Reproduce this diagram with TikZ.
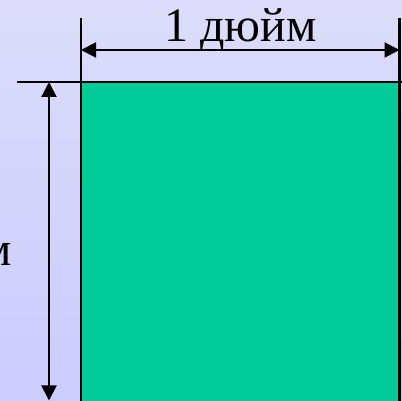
\documentclass[tikz,border=0pt]{standalone}
\usepackage{fontspec}
\setmainfont{Liberation Serif}
\usetikzlibrary{arrows.meta}
\definecolor{bgtop}{HTML}{DCDCFA}
\definecolor{bgbot}{HTML}{CCCCFF}
\definecolor{sheet}{HTML}{00CC99}
\begin{document}
\begin{tikzpicture}[x=1pt,y=1pt,
  dimline/.style={line width=2pt, {Triangle[length=15pt,width=15pt]}-{Triangle[length=15pt,width=15pt]}},
  extline/.style={line width=2.5pt},
  lbl/.style={font=\fontsize{48}{48}\selectfont, inner sep=0pt}]
\useasboundingbox (0,0) rectangle (402,401);
\clip (0,0) rectangle (402,401);
\shade[top color=bgtop, bottom color=bgbot] (0,0) rectangle (402,401);
\fill[sheet] (81,-5) rectangle (399.5,319);
\coordinate (eLtop) at (81,383);
\coordinate (eLbot) at (81,-5);
\coordinate (eRtop) at (399.5,383);
\coordinate (eRbot) at (399.5,-5);
\coordinate (eHl) at (17,319);
\coordinate (eHr) at (405,319);
\draw[extline] (eLtop) -- (eLbot);
\draw[extline] (eRtop) -- (eRbot);
\draw[extline] (eHl) -- (eHr);
\coordinate (hl) at (81,351);
\coordinate (hr) at (399.5,351);
\draw[dimline] (hl) -- (hr);
\node[lbl, anchor=base] (top) at (240.5,359) {1 дюйм};
\coordinate (vt) at (49,319);
\coordinate (vb) at (49,0.5);
\draw[dimline] (vt) -- (vb);
\node[lbl, anchor=base east] (left) at (12,135) {1 дюйм};
\end{tikzpicture}
\end{document}
